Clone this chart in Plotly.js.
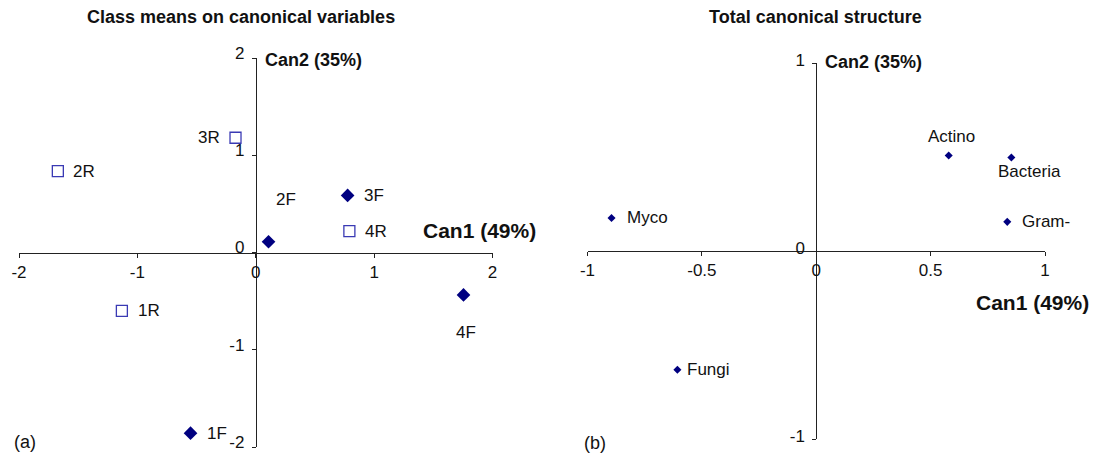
<!DOCTYPE html>
<html>
<head>
<meta charset="utf-8">
<script src="https://cdn.plot.ly/plotly-3.0.1.min.js"></script>
<style>html,body{margin:0;padding:0;background:#fff;}#chart{width:1093px;height:454px;}</style>
</head>
<body>
<div id="chart"></div>
<script>
// ---- Data: panel (a) class means ----
const filledNames = ['1F', '2F', '3F', '4F'];
const filledX = [-0.551, 0.108, 0.776, 1.755];
const filledY = [-1.858, 0.111, 0.587, -0.436];

const openNames = ['1R', '2R', '3R', '4R'];
const openX = [-1.131, -1.672, -0.171, 0.791];
const openY = [-0.600, 0.836, 1.180, 0.220];

// ---- Data: panel (b) total canonical structure ----
const structNames = ['Actino', 'Bacteria', 'Gram-', 'Myco', 'Fungi'];
const structX = [0.579, 0.853, 0.835, -0.895, -0.607];
const structY = [0.508, 0.497, 0.155, 0.176, -0.632];

const leftTicks = [-2, -1, 0, 1, 2];
const leftTickText = ['-2', '-1', '0', '1', '2'];
const rightXTicks = [-1, -0.5, 0, 0.5, 1];
const rightXTickText = ['-1', '-0.5', '0', '0.5', '1'];
const rightYTicks = [-1, 0, 1];
const rightYTickText = ['-1', '0', '1'];

// ---- Layout helpers (pixel -> paper) ----
const W = 1093, H = 454;
const px = v => v / W;
const py = v => 1 - v / H;
const FONT = 'Liberation Sans, Arial, Helvetica, sans-serif';
const TXT = '#111111';

// label placement: [xanchor, xshift, yshift]
const place = {
  '1F': ['left', 14, 0], '1R': ['left', 14, 0], '2F': ['center', 17, 42], '2R': ['left', 13, 0],
  '3F': ['left', 14, 0], '3R': ['right', -14, 0], '4F': ['center', 2, -38], '4R': ['left', 14, 0],
  'Actino': ['center', 3, 19], 'Bacteria': ['center', 18, -14], 'Gram-': ['left', 13, 0],
  'Myco': ['left', 13, 0], 'Fungi': ['left', 8, 0]
};

const xd1 = [px(19), px(492.5)], yd1 = [py(447), py(58)];
const xd2 = [px(587.5), px(1045)], yd2 = [py(439), py(63)];
const mid = d => (d[0] + d[1]) / 2;

const traces = [
  { type: 'scatter', mode: 'markers', x: filledX, y: filledY, xaxis: 'x', yaxis: 'y',
    marker: { symbol: 'diamond', size: 10.5, color: '#000080', line: { width: 0 } }, hoverinfo: 'skip' },
  { type: 'scatter', mode: 'markers', x: openX, y: openY, xaxis: 'x', yaxis: 'y',
    marker: { symbol: 'square-open', size: 11, color: '#3a3ab4', line: { width: 1.3, color: '#3a3ab4' } }, hoverinfo: 'skip' },
  { type: 'scatter', mode: 'markers', x: structX, y: structY, xaxis: 'x2', yaxis: 'y2',
    marker: { symbol: 'diamond', size: 6.2, color: '#000080', line: { width: 0 } }, hoverinfo: 'skip' }
];

const annotations = [];
function addLabels(names, xs, ys, xr, yr) {
  names.forEach((n, i) => {
    const p = place[n];
    annotations.push({ x: xs[i], y: ys[i], xref: xr, yref: yr, text: n, showarrow: false,
      xanchor: p[0], yanchor: 'middle', xshift: p[1], yshift: p[2],
      font: { family: FONT, size: 17, color: TXT } });
  });
}
addLabels(filledNames, filledX, filledY, 'x', 'y');
addLabels(openNames, openX, openY, 'x', 'y');
addLabels(structNames, structX, structY, 'x2', 'y2');

function paperText(text, x, y, xanchor, size, bold) {
  annotations.push({ xref: 'paper', yref: 'paper', x: px(x), y: py(y), text: bold ? '<b>' + text + '</b>' : text,
    showarrow: false, xanchor: xanchor, yanchor: 'middle', font: { family: FONT, size: size, color: TXT } });
}
paperText('Class means on canonical variables', 240.5, 17, 'center', 18, true);
paperText('Total canonical structure', 815.6, 17, 'center', 18, true);
paperText('Can2 (35%)', 263, 60, 'left', 18, true);
paperText('Can2 (35%)', 823, 62, 'left', 18, true);
paperText('Can1 (49%)', 421, 230, 'left', 21, true);
paperText('Can1 (49%)', 1091, 302, 'right', 21, true);
paperText('(a)', 12, 442, 'left', 18, false);
paperText('(b)', 582, 443, 'left', 18, false);

const axisCommon = {
  showgrid: false, zeroline: false, showline: true, linecolor: '#222', linewidth: 1,
  ticks: 'outside', ticklen: 4, tickwidth: 1, tickcolor: '#222',
  tickfont: { family: FONT, size: 17, color: TXT }, tickmode: 'array', fixedrange: true
};

const layout = {
  width: W, height: H, margin: { l: 0, r: 0, t: 0, b: 0 },
  paper_bgcolor: '#fff', plot_bgcolor: 'rgba(0,0,0,0)', showlegend: false,
  xaxis: Object.assign({}, axisCommon, { domain: xd1, range: [-2, 2], tickvals: leftTicks, ticktext: leftTickText,
    anchor: 'free', position: mid(yd1) }),
  yaxis: Object.assign({}, axisCommon, { domain: yd1, range: [-2, 2], tickvals: leftTicks, ticktext: leftTickText,
    anchor: 'free', position: mid(xd1), ticklabelstandoff: 4, ticklabelshift: -5 }),
  xaxis2: Object.assign({}, axisCommon, { domain: xd2, range: [-1, 1], tickvals: rightXTicks, ticktext: rightXTickText,
    anchor: 'free', position: mid(yd2) }),
  yaxis2: Object.assign({}, axisCommon, { domain: yd2, range: [-1, 1], tickvals: rightYTicks, ticktext: rightYTickText,
    anchor: 'free', position: mid(xd2), ticklabelstandoff: 4, ticklabelshift: -3 }),
  annotations: annotations
};

Plotly.newPlot('chart', traces, layout, { staticPlot: true, displayModeBar: false });
</script>
</body>
</html>
